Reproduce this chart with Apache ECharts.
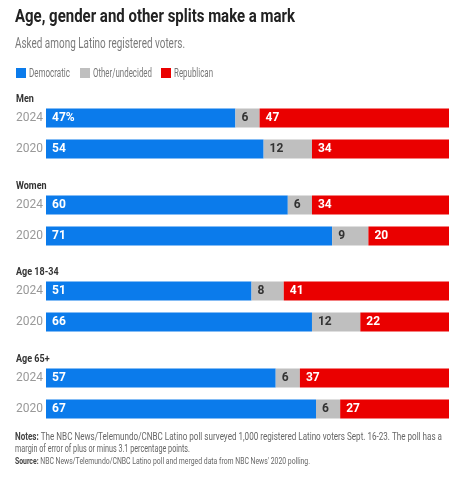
<!DOCTYPE html>
<html><head><meta charset="utf-8">
<script src="https://cdn.jsdelivr.net/npm/echarts@6/dist/echarts.min.js"></script>
<style>html,body{margin:0;padding:0;background:#fff}#c{width:460px;height:483px}</style>
</head><body><div id="c"></div>
<script>
var groups = ['Men', 'Women', 'Age 18-34', 'Age 65+'];
var years = ['2024', '2020'];
var dem = [[47, 54], [60, 71], [51, 66], [57, 67]];
var other = [[6, 12], [6, 9], [8, 12], [6, 6]];
var rep = [[47, 34], [34, 20], [41, 22], [37, 27]];
var legendNames = ['Democratic', 'Other/undecided', 'Republican'];
var titleText = 'Age, gender and other splits make a mark';
var subtitleText = 'Asked among Latino registered voters.';
var notesLine1 = 'The NBC News/Telemundo/CNBC Latino poll surveyed 1,000 registered Latino voters Sept. 16-23. The poll has a';
var notesLine2 = 'margin of error of plus or minus 3.1 percentage points.';
var sourceText = 'NBC News/Telemundo/CNBC Latino poll and merged data from NBC News\' 2020 polling.';

var FONT = 'Roboto';
var colors = ['#0b7beb', '#bfbfbf', '#ea0000'];
var gridTops = [102.5, 189.5, 275.5, 362.5];

var mctx = document.createElement('canvas').getContext('2d');
function tw(text, font) { mctx.font = font; return mctx.measureText(text).width; }
// build a condensed text line from parts so that it spans targetWidth
function line(parts, x, y, size, targetWidth, fixedScale) {
  var total = 0;
  parts.forEach(function (p) { p.font = (p.bold ? 'bold ' : '') + size + 'px ' + FONT; p.w = tw(p.t, p.font); total += p.w; });
  var s = fixedScale || (targetWidth / total);
  var out = [], cx = x;
  parts.forEach(function (p) {
    out.push({ type: 'text', x: cx, y: y, scaleX: s, silent: true,
      style: { x: 0, y: 0, text: p.t, font: p.font, fill: p.color, verticalAlign: 'middle', textVerticalAlign: 'middle' } });
    cx += p.w * s;
  });
  return out;
}

var grids = [], xAxes = [], yAxes = [], series = [], graphics = [];

groups.forEach(function (g, i) {
  grids.push({ left: 46, right: 11, top: gridTops[i], height: 62 });
  xAxes.push({ gridIndex: i, type: 'value', min: 0, max: 100, show: false });
  yAxes.push({ gridIndex: i, type: 'category', data: years, inverse: true,
    axisLine: { show: false }, axisTick: { show: false },
    axisLabel: { color: '#999', fontFamily: FONT, fontSize: 12, margin: 30, align: 'left' } });
  graphics = graphics.concat(line([{ t: g, bold: true, color: '#333' }], 16, gridTops[i] - 3.3, 11, 0, 0.82));
  [dem, other, rep].forEach(function (arr, k) {
    series.push({
      name: legendNames[k], type: 'bar', stack: 's' + i, xAxisIndex: i, yAxisIndex: i,
      barWidth: 19, data: arr[i], itemStyle: { color: colors[k] },
      label: { show: true, position: 'insideLeft', distance: 6,
        color: k === 1 ? '#333' : '#fff', fontWeight: 'bold', fontFamily: FONT, fontSize: 12,
        formatter: function (p) { return (i === 0 && k === 0 && p.dataIndex === 0) ? p.value + '%' : p.value; } }
    });
  });
});

graphics = graphics.concat(line([{ t: titleText, bold: true, color: '#222' }], 15, 17.8, 18.5, 280));
graphics = graphics.concat(line([{ t: subtitleText, color: '#7a7a7a' }], 15, 44.5, 14, 170));

// legend
var legX = [16, 80, 161], legW = [41, 59, 39];
legendNames.forEach(function (n, k) {
  graphics.push({ type: 'rect', shape: { x: legX[k], y: 68, width: 10, height: 10 }, style: { fill: colors[k] }, silent: true });
  graphics = graphics.concat(line([{ t: n, color: '#777' }], legX[k] + 13, 73.5, 12, legW[k]));
});

graphics = graphics.concat(line([{ t: 'Notes: ', bold: true, color: '#444' }, { t: notesLine1, color: '#666' }], 15, 437.5, 11, 427));
graphics = graphics.concat(line([{ t: notesLine2, color: '#666' }], 15, 449.5, 11, 175));
graphics = graphics.concat(line([{ t: 'Source: ', bold: true, color: '#444' }, { t: sourceText, color: '#666' }], 15, 462, 9.5, 295));

var chart = echarts.init(document.getElementById('c'));
chart.setOption({
  animation: false,
  grid: grids, xAxis: xAxes, yAxis: yAxes, series: series, graphic: graphics
});
</script></body></html>
